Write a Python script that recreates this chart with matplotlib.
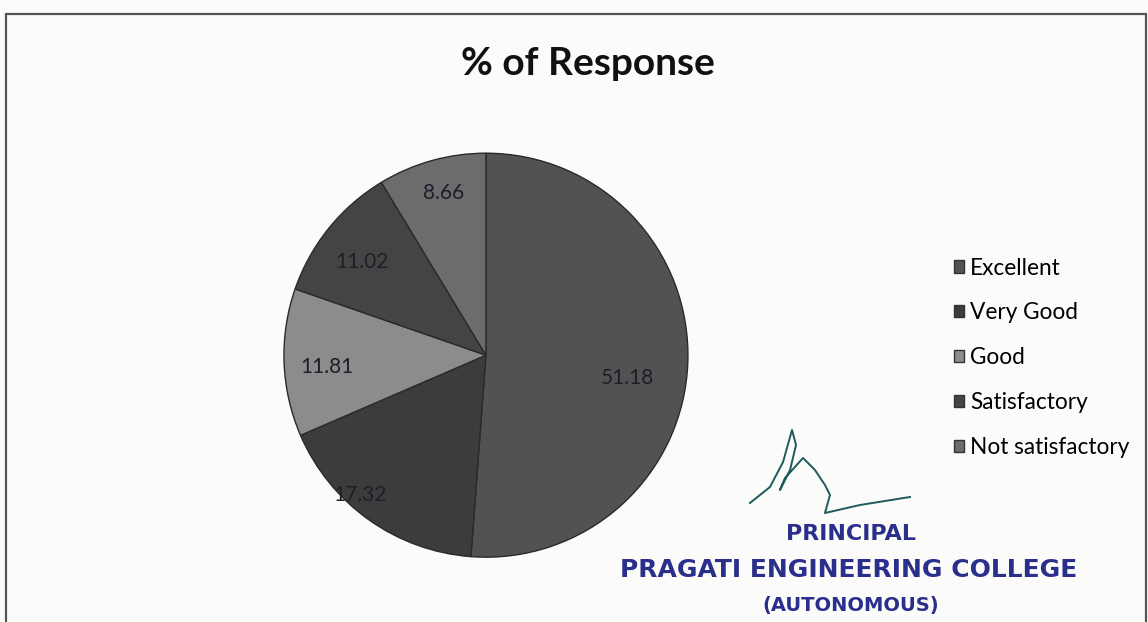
import numpy as np
import matplotlib
matplotlib.use("Agg")
import matplotlib.pyplot as plt
from matplotlib.patches import Rectangle

# data
categories = ["Excellent", "Very Good", "Good", "Satisfactory", "Not satisfactory"]
values = [51.18, 17.32, 11.81, 11.02, 8.66]
labels = ["51.18", "17.32", "11.81", "11.02", "8.66"]
colors = ["#525252", "#3c3c3c", "#8c8c8c", "#444444", "#6c6c6c"]
# where each value label sits, as a fraction of the radius (Excel best-fit)
label_r = [0.71, 0.93, 0.79, 0.77, 0.83]
label_shift = [-7, -6.6, 2, 2, -1]  # degrees

fig = plt.figure(figsize=(11.48, 6.22), dpi=100)
fig.patch.set_facecolor("#fbfbfa")

# outer frame of the scanned chart
fig.add_artist(Rectangle((0.005, -0.01), 0.993, 0.988, transform=fig.transFigure,
                         fill=False, edgecolor="#555555", linewidth=1.6))

ax = fig.add_axes([0.2473, 0.1042, 0.352, 0.6495])
wedges, _ = ax.pie(values, colors=colors, startangle=90, counterclock=False,
                   wedgeprops=dict(edgecolor="#2a2a2a", linewidth=1.0))
ax.set_xlim(-1.0, 1.0)
ax.set_ylim(-1.0, 1.0)
ax.set_aspect("equal")

for w, lab, r, s in zip(wedges, labels, label_r, label_shift):
    ang = np.deg2rad((w.theta1 + w.theta2) / 2 + s)
    ax.text(r * np.cos(ang), r * np.sin(ang), lab, ha="center", va="center",
            fontsize=15, color="#1e1e2a", family="Lato")

fig.text(0.512, 0.898, "% of Response", ha="center", va="center",
         fontsize=28, fontweight="bold", family="Lato", color="#111111")

leg = fig.legend(wedges, categories, loc="center left", bbox_to_anchor=(0.8135, 0.425),
                 frameon=False, handlelength=0.45, handleheight=0.45, handletextpad=0.25,
                 labelspacing=1.05, prop=dict(family="Lato", size=16.3))
for h in leg.legend_handles:
    h.set_edgecolor("#333333")

# principal's stamp and signature
stamp = "#2b2f8c"
fig.text(0.741, 0.141, "PRINCIPAL", ha="center", va="center", fontsize=16,
         fontweight="bold", color=stamp, family="DejaVu Sans")
fig.text(0.739, 0.0836, "PRAGATI ENGINEERING COLLEGE", ha="center", va="center",
         fontsize=18, fontweight="bold", color=stamp, family="DejaVu Sans")
fig.text(0.741, 0.027, "(AUTONOMOUS)", ha="center", va="center", fontsize=14,
         fontweight="bold", color=stamp, family="DejaVu Sans")

sig_x = [0.6533, 0.6707, 0.6821, 0.6899, 0.6934, 0.6882, 0.6794, 0.6838,
         0.6995, 0.7099, 0.7186, 0.7230, 0.7186, 0.7491, 0.7927]
sig_y = [0.1913, 0.2170, 0.2572, 0.3087, 0.2846, 0.2444, 0.2122, 0.2315,
         0.2637, 0.2444, 0.2203, 0.2042, 0.1752, 0.1881, 0.2010]
fig.add_artist(plt.Line2D(sig_x, sig_y, transform=fig.transFigure, color="#1f5a5a",
                          linewidth=1.4, solid_joinstyle="round"))

fig.savefig("out.png", dpi=100, facecolor=fig.get_facecolor())
